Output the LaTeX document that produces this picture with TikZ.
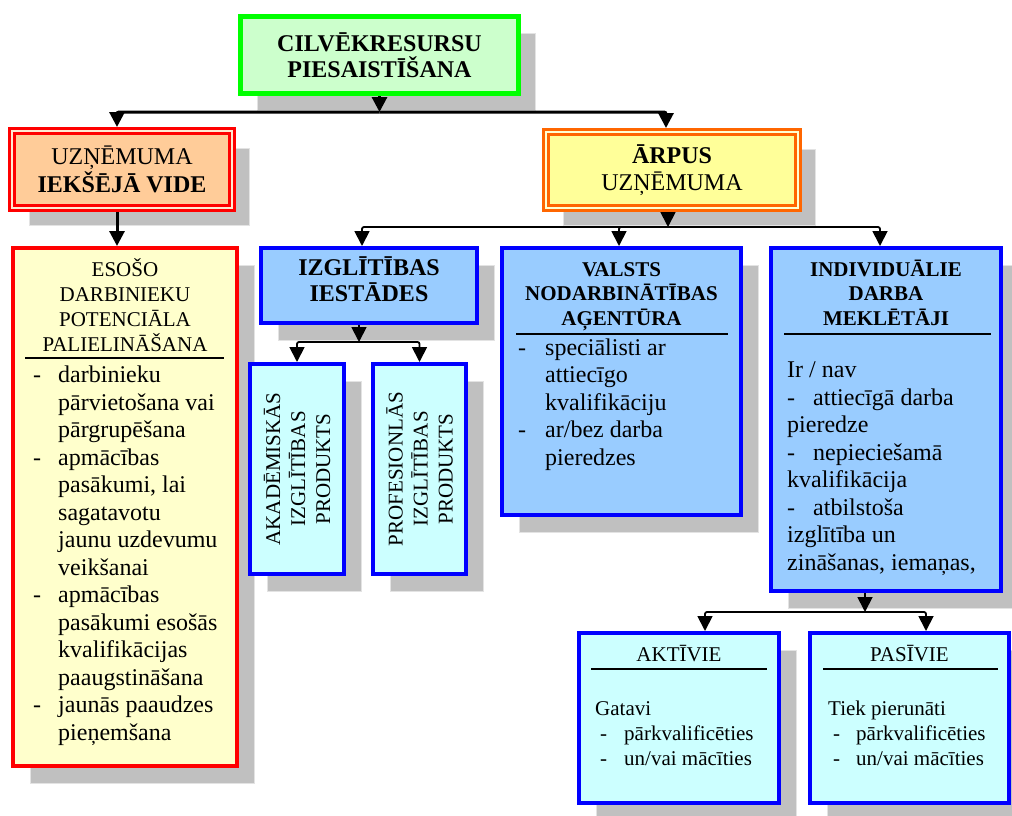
\documentclass[tikz,border=0pt]{standalone}
\usepackage{fontspec}
\setmainfont{Liberation Serif}
\usetikzlibrary{positioning, arrows.meta, shadows}

\definecolor{titleline}{HTML}{00FF00}
\definecolor{titlefill}{HTML}{CCFFCC}
\definecolor{innerfill}{HTML}{FFCC99}
\definecolor{outerline}{HTML}{FF6600}
\definecolor{outerfill}{HTML}{FFFF99}
\definecolor{notefill}{HTML}{FFFFCC}
\definecolor{groupfill}{HTML}{99CCFF}
\definecolor{leaffill}{HTML}{CCFFFF}
\definecolor{shgray}{HTML}{C0C0C0}

\tikzset{>={Triangle[width=15pt,length=15pt]},
box/.style={rectangle, inner sep=0pt, line width=4pt,
  drop shadow={shadow xshift=17pt, shadow yshift=-17pt, fill=shgray,
    draw=shgray!45, line width=1pt, opacity=1}},
dbl/.style={box, line width=3pt, double distance=2pt, outer sep=4pt},
bluebox/.style={box, draw=blue, fill=groupfill},
leafbox/.style={box, draw=blue, fill=leaffill},
txt/.style={font=\fontsize{24}{27.5}\selectfont},
bold/.style={font=\fontsize{24}{26}\selectfont\bfseries},
hd/.style={font=\fontsize{21}{25}\selectfont},
hdbold/.style={font=\fontsize{21}{24.5}\selectfont\bfseries},
wire/.style={->, line width=1.8pt, rounded corners=2pt},
topwire/.style={wire, line width=3pt},
rule/.style={line width=1.6pt},
}
\newcommand{\dsh}[1][25pt]{\makebox[#1][l]{-}}
\newcommand{\gap}[1][25pt]{\hspace*{#1}}

\begin{document}
\begin{tikzpicture}[x=1pt, y=-1pt]
\useasboundingbox (0,0) rectangle (1012,815);

% top level
\node[box, draw=titleline, fill=titlefill, line width=5pt, minimum width=278pt,
  minimum height=77pt, bold, align=center] (title) at (379.5,55)
  {CILVĒKRESURSU\\PIESAISTĪŠANA};
\node[dbl, draw=red, double=innerfill!45!white, fill=innerfill, minimum width=220pt,
  minimum height=77pt, txt, align=center] (uz) at (122,169.5)
  {UZŅĒMUMA\\\textbf{IEKŠĒJĀ VIDE}};
\node[dbl, draw=outerline, double=outerfill!45!white, fill=outerfill, minimum width=252pt,
  minimum height=76pt, txt, align=center] (arpus) at (672,170)
  {\textbf{ĀRPUS}\\UZŅĒMUMA};

% inside the company (text nodes sit on their last baseline)
\node[box, draw=red, fill=notefill, minimum width=224pt, minimum height=518pt] (esoso) at (125,507) {};
\node[hd, align=center, anchor=base] (esosohd) at (125,351)
  {ESOŠO\\DARBINIEKU\\POTENCIĀLA\\PALIELINĀŠANA};
\draw[rule] (25,358) -- (224,358);
\node[txt, align=left, anchor=base west, inner sep=0pt] (esosolist) at (33,740)
  {\dsh darbinieku\\\gap pārvietošana vai\\\gap pārgrupēšana\\
   \dsh apmācības\\\gap pasākumi, lai\\\gap sagatavotu\\\gap jaunu uzdevumu\\\gap veikšanai\\
   \dsh apmācības\\\gap pasākumi esošās\\\gap kvalifikācijas\\\gap paaugstināšana\\
   \dsh jaunās paaudzes\\\gap pieņemšana};

% outside the company
\node[bluebox, minimum width=216pt, minimum height=75pt, bold, align=center,
  text depth=12pt] (izgl) at (369,285.5) {IZGLĪTĪBAS\\IESTĀDES};
\node[leafbox, minimum width=94pt, minimum height=210pt] (akad) at (297,469) {};
\node[hd, rotate=90, align=center] (akadtxt) at (akad.center)
  {AKADĒMISKĀS\\IZGLĪTĪBAS\\PRODUKTS};
\node[leafbox, minimum width=93pt, minimum height=210pt] (prof) at (419.5,469) {};
\node[hd, rotate=90, align=center] (proftxt) at (prof.center)
  {PROFESIONLĀS\\IZGLĪTĪBAS\\PRODUKTS};

\node[bluebox, minimum width=239pt, minimum height=267pt] (valsts) at (621.5,381.5) {};
\node[hdbold, align=center, anchor=base] (valstshd) at (621.5,325)
  {VALSTS\\NODARBINĀTĪBAS\\AĢENTŪRA};
\draw[rule] (516,334) -- (728,334);
\node[txt, align=left, anchor=base west, inner sep=0pt] (valstslist) at (518,465)
  {\dsh[27pt]speciālisti ar\\\gap[27pt]attiecīgo\\\gap[27pt]kvalifikāciju\\
   \dsh[27pt]ar/bez darba\\\gap[27pt]pieredzes};

\node[bluebox, minimum width=230pt, minimum height=343pt] (indiv) at (886,419.5) {};
\node[hdbold, align=center, anchor=base] (indivhd) at (886,325)
  {INDIVIDUĀLIE\\DARBA\\MEKLĒTĀJI};
\draw[rule] (784,334) -- (991,334);
\node[txt, align=left, anchor=base west, inner sep=0pt] (indivlist) at (787,570)
  {Ir / nav\\\dsh[26pt]attiecīgā darba\\pieredze\\\dsh[26pt]nepieciešamā\\
   kvalifikācija\\\dsh[26pt]atbilstoša\\izglītība un\\zināšanas, iemaņas,};

\node[leafbox, minimum width=200pt, minimum height=170pt] (akt) at (679,718) {};
\node[hd, anchor=base] (akthd) at (679,661) {AKTĪVIE};
\draw[rule] (591,669) -- (767,669);
\node[hd, align=left, anchor=base west, inner sep=0pt] (aktlist) at (595,765)
  {Gatavi\\\gap[5pt]\dsh[24pt]pārkvalificēties\\\gap[5pt]\dsh[24pt]un/vai mācīties};

\node[leafbox, minimum width=199pt, minimum height=170pt] (pas) at (909.5,718) {};
\node[hd, anchor=base] (pashd) at (909.5,661) {PASĪVIE};
\draw[rule] (823,669) -- (998,669);
\node[hd, align=left, anchor=base west, inner sep=0pt] (paslist) at (828,765)
  {Tiek pierunāti\\\gap[5pt]\dsh[23pt]pārkvalificēties\\\gap[5pt]\dsh[23pt]un/vai mācīties};

% connector bars
\coordinate (row1) at (0,112);
\coordinate (row2) at (0,227);
\coordinate (row3) at (0,342);
\coordinate (row4) at (0,612);

\draw[topwire] (title.south) -- (title.south |- row1);
\draw[topwire] (title.south |- row1) -| ([xshift=-5pt]uz.north);
\draw[topwire] (title.south |- row1) -| ([xshift=-6pt]arpus.north);
\draw[topwire] ([xshift=-5pt]uz.south) -- ([xshift=-5pt]uz.south |- esoso.north);

\draw[wire] ([xshift=-4pt]arpus.south) -- ([xshift=-4pt]arpus.south |- row2);
\draw[wire] ([xshift=-4pt]arpus.south |- row2) -| ([xshift=-7pt]izgl.north);
\draw[wire] ([xshift=-4pt]arpus.south |- row2) -| ([xshift=-2.5pt]valsts.north);
\draw[wire] ([xshift=-4pt]arpus.south |- row2) -| ([xshift=-6pt]indiv.north);

\draw[wire] ([xshift=-10pt]izgl.south) -- ([xshift=-10pt]izgl.south |- row3);
\draw[wire] ([xshift=-10pt]izgl.south |- row3) -| (akad.north);
\draw[wire] ([xshift=-10pt]izgl.south |- row3) -| (prof.north);

\draw[wire] ([xshift=-21pt]indiv.south) -- ([xshift=-21pt]indiv.south |- row4);
\draw[wire] ([xshift=-21pt]indiv.south |- row4) -| ([xshift=26pt]akt.north);
\draw[wire] ([xshift=-21pt]indiv.south |- row4) -| ([xshift=16.5pt]pas.north);
\end{tikzpicture}
\end{document}
